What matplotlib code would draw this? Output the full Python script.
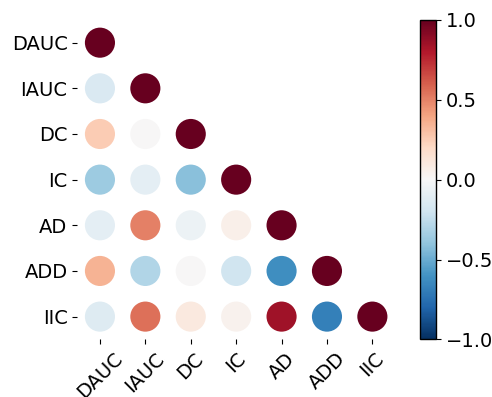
import numpy as np
import matplotlib.pyplot as plt

labels = ['DAUC', 'IAUC', 'DC', 'IC', 'AD', 'ADD', 'IIC']

# lower triangle of the correlation matrix, row by row
rows = [
    [1.0],
    [-0.15, 1.0],
    [0.25, 0.0, 1.0],
    [-0.36, -0.10, -0.42, 1.0],
    [-0.10, 0.50, -0.06, 0.06, 1.0],
    [0.35, -0.30, 0.0, -0.20, -0.62, 1.0],
    [-0.13, 0.55, 0.10, 0.04, 0.85, -0.68, 1.0],
]

xs, ys, vals = [], [], []
for i, r in enumerate(rows):
    for j, v in enumerate(r):
        xs.append(j)
        ys.append(i)
        vals.append(v)

fig = plt.figure(figsize=(4.92, 3.97), dpi=100)
ax = fig.add_axes([0.157, 0.145, 0.646, 0.805])
cax = fig.add_axes([0.853, 0.145, 0.033, 0.805])

sc = ax.scatter(xs, ys, c=vals, s=470, cmap='RdBu_r', vmin=-1, vmax=1,
                edgecolors='none')
ax.set_xlim(-0.5, 6.5)
ax.set_ylim(6.5, -0.5)
ax.set_xticks(range(len(labels)))
ax.set_xticklabels(labels, rotation=45, fontsize=14)
ax.set_yticks(range(len(labels)))
ax.set_yticklabels(labels, fontsize=14)
for s in ax.spines.values():
    s.set_visible(False)

cb = fig.colorbar(sc, cax=cax, ticks=[-1, -0.5, 0, 0.5, 1])
cb.ax.tick_params(labelsize=14)
cb.outline.set_linewidth(1)

fig.savefig('out.png', dpi=100)
